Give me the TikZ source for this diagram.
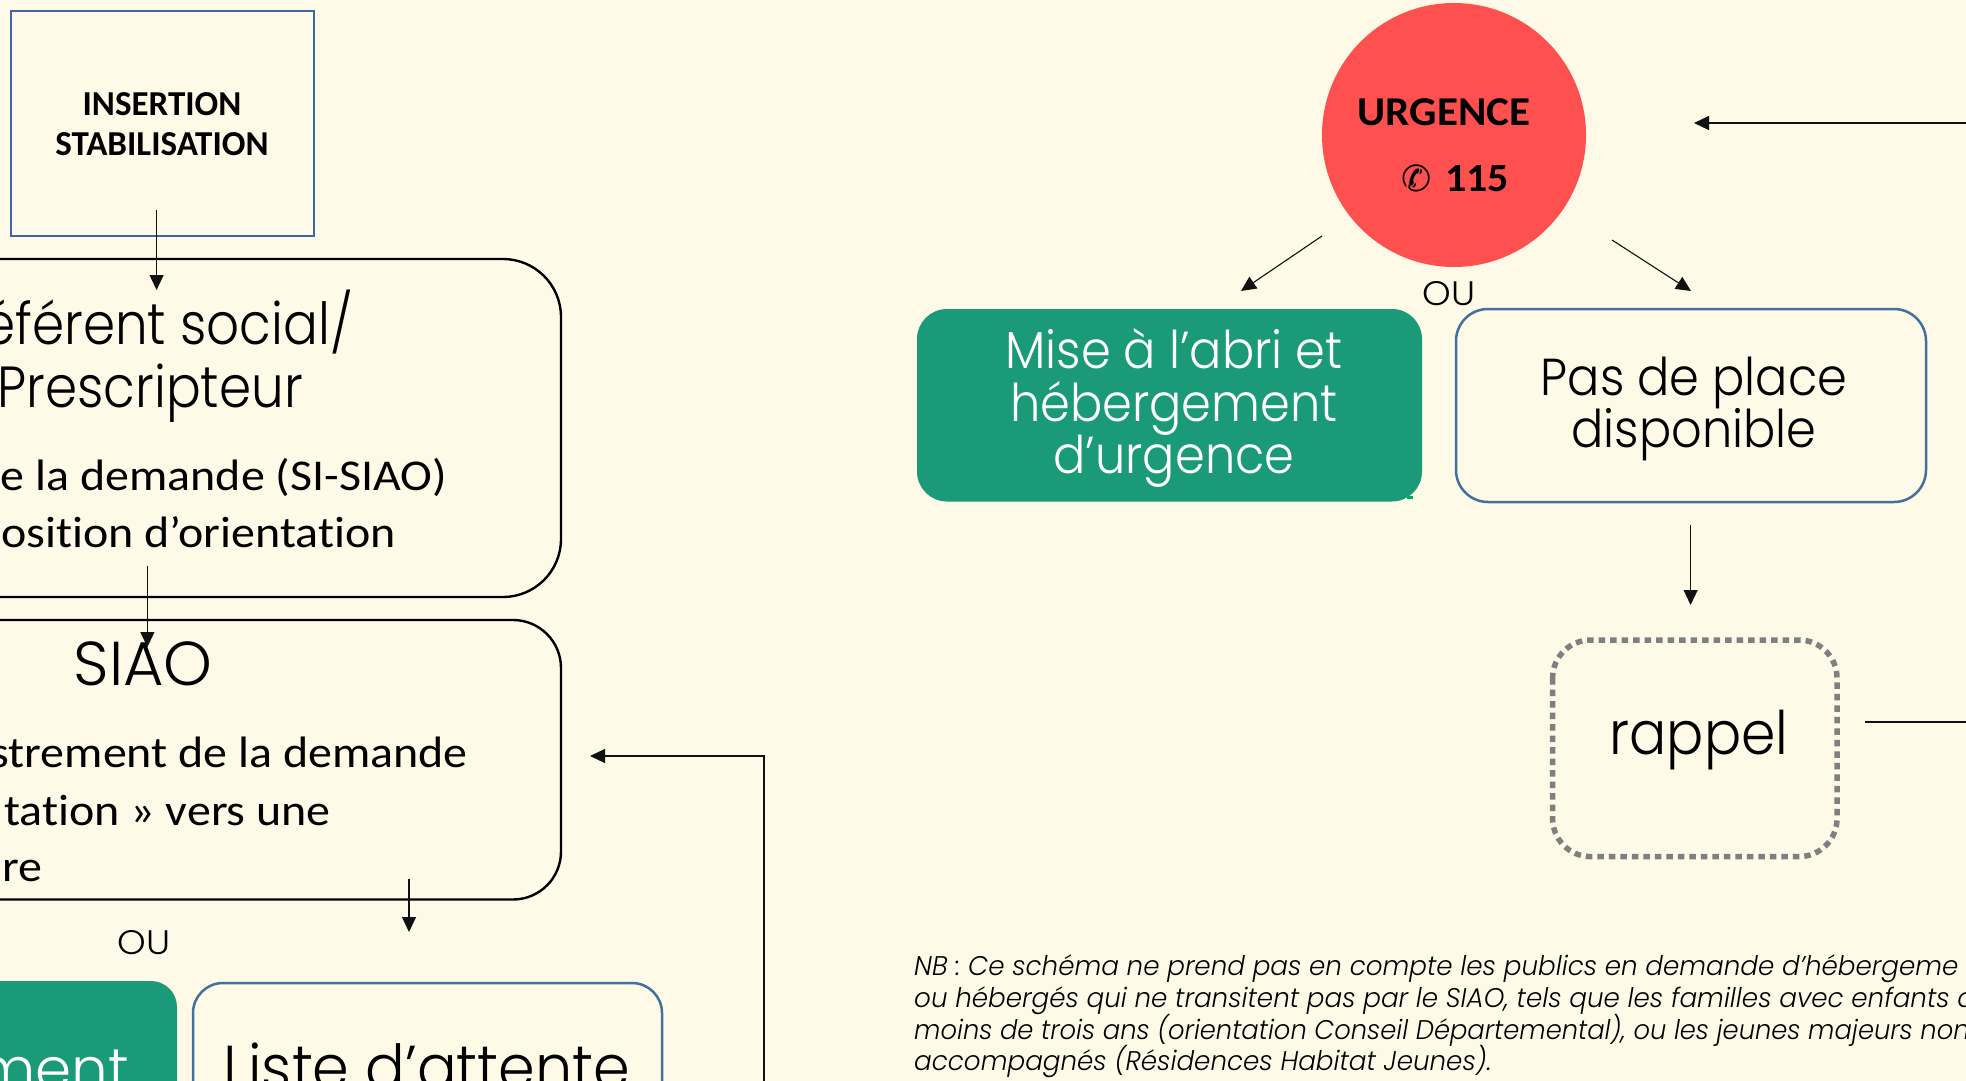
\documentclass[tikz,border=0pt]{standalone}
\usepackage{fontspec}
\setmainfont{Carlito}[Ligatures=CommonOff]
\newfontfamily\gothic{Poppins Light}
\newfontfamily\gothicn[FakeStretch=.92]{Poppins Light}
\newfontfamily\gothicm[FakeStretch=.89]{Poppins Light}
\newfontfamily\gothicl[FakeStretch=.95]{Poppins Light}
\newfontfamily\gothico[FakeStretch=1.07]{Poppins Light}
\newfontfamily\gothicit[FakeStretch=.97]{Poppins Light Italic}
\newfontfamily\gothicits[FakeStretch=.955]{Poppins Light Italic}
\newfontfamily\bodyw[FakeStretch=1.09,Ligatures=CommonOff]{Carlito}
\newfontfamily\boldw[FakeStretch=1.05,Ligatures=CommonOff]{Carlito Bold}
\newfontfamily\teleph{DejaVu Sans}
\definecolor{paper}{HTML}{FFF9E7}
\definecolor{tealbox}{HTML}{1A9A78}
\definecolor{bluebox}{HTML}{41719C}
\definecolor{insblue}{HTML}{3F66A6}
\definecolor{redc}{HTML}{FF5050}
\definecolor{dotgrey}{HTML}{7F7F7F}
\definecolor{inkline}{HTML}{111111}
\definecolor{notch}{HTML}{00B050}
\usetikzlibrary{arrows.meta,calc}
\tikzset{
  x=1pt,y=-1pt,
  arr/.style={-{Triangle[length=15pt,width=14pt]},draw=inkline,line width=1.1pt},
  blackbox/.style={draw=black,line width=2.4pt},
  ttl/.style={inner sep=0,anchor=base},
  titleR/.style={inner sep=0,anchor=base east},
  sub/.style={inner sep=0,anchor=base east,font=\bodyw\fontsize{44}{44}\selectfont},
  note/.style={inner sep=0,anchor=base west,font=\gothicit\fontsize{27}{27}\selectfont},
  bigw/.style={ttl,font=\gothicn\fontsize{52}{52}\selectfont},
}
\begin{document}
\begin{tikzpicture}
\useasboundingbox (0,0) rectangle (1966,1081);
\fill[paper] (0,0) rectangle (1966,1081);
% left column
\draw[draw=insblue,line width=2pt] (11,11) rectangle (314,236);
\node[ttl,font=\fontsize{35}{35}\selectfont\bfseries] (ins1) at (162,115) {INSERTION};
\node[ttl,font=\fontsize{35}{35}\selectfont\bfseries] (ins2) at (162,155) {STABILISATION};
\coordinate (ins) at (156.6,210);
\draw[blackbox,rounded corners=58pt] (-80,259) rectangle (561,597);
\draw[blackbox,rounded corners=48pt] (-80,620) rectangle (561,899.5);
\coordinate (refb) at (147.4,566);\coordinate (reft) at (156.6,290);
\coordinate (siaot) at (147.4,647);\coordinate (siaob) at (409,879);
\coordinate (listet) at (409,932);
\draw[arr] (ins) -- (reft);
\draw[arr] (refb) -- (siaot);
\draw[arr] (siaob) -- (listet);
\node[titleR,font=\gothicm\fontsize{58}{58}\selectfont] (a1) at (353,344) {éférent social/};
\node[titleR,font=\gothicm\fontsize{58}{58}\selectfont] (a2) at (303,407) {Prescripteur};
\node[sub] (a3) at (447,490) {e la demande (SI-SIAO)};
\node[sub] (a4) at (396,547.5) {osition d’orientation};
\node[titleR,font=\gothic\fontsize{62}{62}\selectfont] (s1) at (213,685) {SIAO};
\node[sub] (s2) at (468,767) {strement de la demande};
\node[sub] (s3) at (331,825) {tation » vers une};
\node[sub] (s4) at (43,881) {re};
\node[ttl,font=\gothico\fontsize{34}{34}\selectfont] (ou1) at (144,954) {OU};
\fill[tealbox,rounded corners=26pt] (-80,981) rectangle (177,1140);
\draw[draw=bluebox,line width=2.5pt,rounded corners=30pt] (193,983) rectangle (662,1140);
\node[titleR,font=\gothic\fontsize{58}{58}\selectfont,text=white] (g1) at (129,1089) {ment};
\node[ttl,font=\gothicl\fontsize{62}{62}\selectfont] (l1) at (427,1089) {Liste d’attente};
\coordinate (siaor) at (590,756);\coordinate (ret) at (764,756);\coordinate (retb) at (764,1081);
\draw[arr] (retb) -- (ret) -- (siaor);
% urgence
\node[circle,fill=redc,minimum size=264pt,inner sep=0] (urg) at (1454,135) {};
\node[ttl,font=\boldw\fontsize{41}{41}\selectfont] (u1) at (1444,125) {URGENCE};
\node[ttl,font=\teleph\fontsize{36}{36}\selectfont] (u3) at (1417,191) {✆};
\node[inner sep=0,anchor=base west,font=\boldw\fontsize{40}{40}\selectfont] (u2) at (1445,191) {115};
\coordinate (ul) at (1322,236);\coordinate (ur) at (1612,240);
\coordinate (ult) at (1241,291);\coordinate (urt) at (1691,291);
\draw[arr] (ul) -- (ult);
\draw[arr] (ur) -- (urt);
\coordinate (topr) at (1966,123);\coordinate (topa) at (1694,123);
\draw[arr] (topr) -- (topa);
\node[ttl,font=\gothico\fontsize{34}{34}\selectfont] (ou2) at (1449,305) {OU};
\fill[tealbox,rounded corners=30pt] (917,309) rectangle (1422,501.5);
\fill[notch] (1407,496) rectangle (1413,499);
\node[bigw,text=white] (m1) at (1174,368) {Mise à l’abri et};
\node[bigw,text=white] (m2) at (1174,421) {hébergement};
\node[bigw,text=white] (m3) at (1174,473) {d’urgence};
\draw[draw=bluebox,line width=2.5pt,rounded corners=32pt] (1456,309) rectangle (1926,502);
\node[bigw] (p1) at (1694,395) {Pas de place};
\node[bigw] (p2) at (1694,447) {disponible};
\coordinate (pb) at (1690.6,524.5);\coordinate (rt) at (1690.6,605);
\draw[arr] (pb) -- (rt);
\draw[draw=dotgrey,line width=5.5pt,dash pattern=on 6.5pt off 5pt,rounded corners=38pt] (1552.6,640) rectangle (1837,856.6);
\node[ttl,font=\gothicn\fontsize{60}{60}\selectfont] (r1) at (1699,754) {rappel};
\coordinate (rr) at (1865,722);\coordinate (rre) at (1966,722);
\draw[draw=inkline,line width=1.1pt] (rr) -- (rre);
% note
\node[note] (n1) at (914,975) {NB : Ce schéma ne prend pas en compte les publics en demande d’hébergeme};
\node[note] (n2) at (914,1007) {ou hébergés qui ne transitent pas par le SIAO, tels que les familles avec enfants d};
\node[note,font=\gothicits\fontsize{27}{27}\selectfont] (n3) at (914,1039) {moins de trois ans (orientation Conseil Départemental), ou les jeunes majeurs non};
\node[note] (n4) at (914,1070) {accompagnés (Résidences Habitat Jeunes).};
\end{tikzpicture}
\end{document}
